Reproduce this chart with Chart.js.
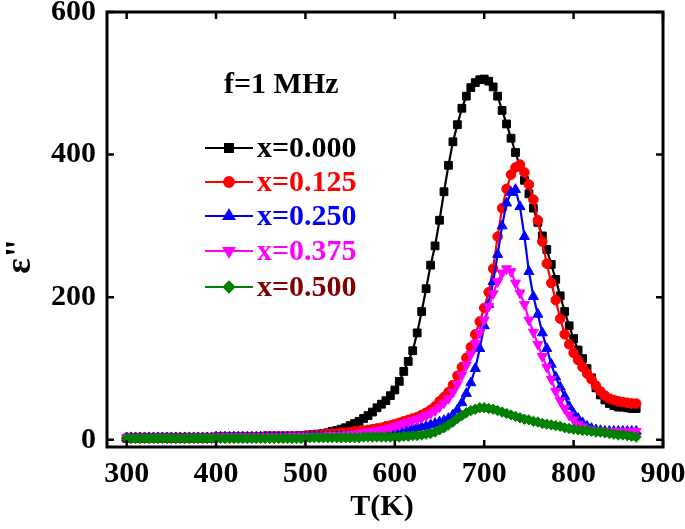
<!DOCTYPE html>
<html>
<head>
<meta charset="utf-8">
<script src="https://cdn.jsdelivr.net/npm/chart.js@4.4.1/dist/chart.umd.min.js"></script>
<style>
  html, body { margin: 0; padding: 0; background: #fff; }
  canvas { display: block; }
</style>
</head>
<body>
<canvas id="chart" width="685" height="529"></canvas>
<script>
// temperature (K)
const temps = [
  300, 305, 310, 315, 320, 325, 330, 335, 340, 345,
  350, 355, 360, 365, 370, 375, 380, 385, 390, 395,
  400, 405, 410, 415, 420, 425, 430, 435, 440, 445,
  450, 455, 460, 465, 470, 475, 480, 485, 490, 495,
  500, 505, 510, 515, 520, 525, 530, 535, 540, 545,
  550, 555, 560, 565, 570, 575, 580, 585, 590, 595,
  600, 605, 610, 615, 620, 625, 630, 635, 640, 645,
  650, 655, 660, 665, 670, 675, 680, 685, 690, 695,
  700, 705, 710, 715, 720, 725, 730, 735, 740, 745,
  750, 755, 760, 765, 770, 775, 780, 785, 790, 795,
  800, 805, 810, 815, 820, 825, 830, 835, 840, 845,
  850, 855, 860, 865, 870
];

// epsilon'' at f = 1 MHz
const eps000 = [
  2, 2, 2, 2, 2, 2, 2, 2, 2, 2,
  2, 2, 2, 2, 2, 2, 2, 2, 2, 2,
  3, 3, 3, 3, 3, 3, 3, 3, 3, 3,
  4, 4, 4, 4, 4, 4, 4, 5, 5, 6,
  6, 7, 7, 8, 9, 10, 12, 13, 15, 17,
  20, 23, 26, 30, 34, 39, 45, 50, 55, 62,
  70, 82, 96, 110, 125, 150, 180, 212, 245, 272,
  308, 348, 385, 418, 442, 465, 482, 494, 501, 505,
  506, 503, 495, 482, 462, 443, 423, 403, 383, 364,
  345, 325, 305, 286, 267, 246, 225, 202, 180, 160,
  142, 126, 114, 100, 87, 73, 63, 56, 51, 48,
  46, 46, 45, 44, 44
];
const eps125 = [
  3, 3, 3, 3, 3, 3, 3, 3, 3, 3,
  3, 3, 3, 3, 3, 3, 3, 3, 3, 3,
  4, 4, 4, 4, 4, 4, 4, 4, 4, 4,
  4, 5, 5, 5, 5, 5, 5, 5, 5, 5,
  6, 6, 7, 7, 8, 8, 9, 9, 10, 10,
  11, 12, 12, 13, 14, 15, 16, 17, 19, 20,
  22, 24, 26, 28, 30, 32, 35, 38, 42, 47,
  54, 60, 67, 77, 90, 102, 115, 130, 148, 166,
  185, 207, 240, 285, 325, 352, 372, 382, 386, 375,
  358, 337, 308, 278, 247, 220, 196, 170, 148, 134,
  122, 112, 102, 93, 85, 76, 68, 62, 58, 56,
  54, 53, 52, 51, 51
];
const eps250 = [
  3, 3, 3, 3, 3, 3, 3, 3, 3, 3,
  3, 3, 3, 3, 3, 3, 3, 3, 3, 3,
  4, 4, 4, 4, 4, 4, 4, 4, 4, 4,
  4, 4, 4, 4, 4, 4, 4, 4, 4, 4,
  4, 5, 5, 5, 5, 5, 5, 5, 5, 5,
  6, 6, 6, 6, 7, 7, 8, 9, 10, 11,
  12, 13, 14, 15, 16, 17, 18, 19, 21, 23,
  25, 27, 30, 35, 42, 52, 65, 80, 100, 128,
  160, 190, 222, 260, 300, 332, 347, 351, 327, 285,
  236, 201, 176, 150, 128, 106, 88, 74, 61, 47,
  37, 30, 24, 19, 16, 14, 13, 12, 12, 12,
  12, 12, 12, 12, 12
];
const eps375 = [
  3, 3, 3, 3, 3, 3, 3, 3, 3, 3,
  3, 3, 3, 3, 3, 3, 3, 3, 3, 3,
  4, 4, 4, 4, 4, 4, 4, 4, 4, 4,
  4, 4, 4, 4, 4, 4, 4, 5, 5, 5,
  5, 5, 5, 5, 5, 6, 6, 6, 6, 7,
  7, 8, 9, 10, 11, 12, 13, 14, 15, 17,
  19, 21, 23, 25, 27, 29, 31, 34, 37, 41,
  46, 52, 58, 67, 78, 91, 105, 120, 135, 150,
  168, 187, 205, 222, 234, 240, 236, 220, 206, 190,
  168, 151, 134, 117, 102, 85, 68, 55, 44, 35,
  28, 22, 18, 15, 14, 13, 12, 12, 12, 12,
  12, 12, 12, 12, 12
];
const eps500 = [
  2, 2, 2, 2, 2, 2, 2, 2, 2, 2,
  2, 2, 2, 2, 2, 2, 2, 2, 2, 2,
  2, 2, 2, 2, 2, 2, 2, 2, 2, 2,
  2, 2, 2, 2, 2, 2, 2, 2, 2, 2,
  2, 3, 3, 3, 3, 3, 3, 3, 3, 3,
  3, 3, 3, 4, 4, 4, 4, 4, 4, 4,
  4, 4, 5, 5, 6, 6, 7, 8, 9, 11,
  14, 17, 21, 25, 30, 34, 38, 41, 43, 45,
  45, 44, 43, 41, 39, 37, 35, 33, 31, 29,
  28, 26, 25, 23, 22, 21, 20, 19, 17, 16,
  15, 14, 13, 13, 12, 11, 11, 10, 9, 8,
  7, 7, 6, 5, 4
];

const seriesNames = ['x=0.000', 'x=0.125', 'x=0.250', 'x=0.375', 'x=0.500'];
const seriesData = [eps000, eps125, eps250, eps375, eps500];
const xTicks = [300, 400, 500, 600, 700, 800, 900];
const yTicks = [0, 200, 400, 600];

const colors = ['#000000', '#ff0000', '#0000ff', '#ff00ff', '#008000'];
const labelColors = ['#000000', '#ff0000', '#0000ff', '#ff00ff', '#800000'];
const styles = [
  { pointStyle: 'rect', radius: 5.5, rotation: 0 },
  { pointStyle: 'circle', radius: 4.8, rotation: 0 },
  { pointStyle: 'triangle', radius: 5.8, rotation: 0 },
  { pointStyle: 'triangle', radius: 5.8, rotation: 180 },
  { pointStyle: 'rectRot', radius: 5.2, rotation: 0 }
];

const FONT = 'Liberation Serif';

const datasets = seriesData.map((vals, i) => ({
  label: seriesNames[i],
  data: temps.map((t, j) => ({ x: t, y: vals[j] })),
  borderColor: colors[i],
  backgroundColor: colors[i],
  borderWidth: 2.2,
  pointStyle: styles[i].pointStyle,
  pointRadius: styles[i].radius,
  pointRotation: styles[i].rotation,
  pointBorderWidth: 1,
  tension: 0,
  order: 4 - i
}));

const dressing = {
  id: 'dressing',
  afterDraw(chart) {
    const ctx = chart.ctx;
    const a = chart.chartArea;
    const xs = chart.scales.x, ys = chart.scales.y;
    ctx.save();

    // box + inner ticks
    ctx.strokeStyle = '#000';
    ctx.lineWidth = 3;
    ctx.strokeRect(a.left, a.top, a.right - a.left, a.bottom - a.top);
    ctx.lineWidth = 2.5;
    ctx.beginPath();
    xTicks.forEach(v => {
      const px = xs.getPixelForValue(v);
      ctx.moveTo(px, a.bottom); ctx.lineTo(px, a.bottom - 7);
      ctx.moveTo(px, a.top); ctx.lineTo(px, a.top + 7);
    });
    yTicks.forEach(v => {
      const py = ys.getPixelForValue(v);
      ctx.moveTo(a.left, py); ctx.lineTo(a.left + 7, py);
      ctx.moveTo(a.right, py); ctx.lineTo(a.right - 7, py);
    });
    ctx.stroke();

    // legend
    const rows = [148, 182, 216, 251, 287];
    ctx.font = 'bold 30px "' + FONT + '"';
    ctx.textBaseline = 'middle';
    ctx.textAlign = 'left';
    ctx.fillStyle = '#000';
    ctx.fillText('f=1 MHz', 224, 85);
    rows.forEach((y, i) => {
      ctx.strokeStyle = colors[i];
      ctx.fillStyle = colors[i];
      ctx.lineWidth = 2.2;
      ctx.beginPath();
      ctx.moveTo(205, y); ctx.lineTo(253, y);
      ctx.stroke();
      Chart.helpers.drawPoint(ctx, {
        pointStyle: styles[i].pointStyle,
        radius: styles[i].radius,
        rotation: styles[i].rotation,
        borderWidth: 1
      }, 229, y);
      ctx.fillStyle = labelColors[i];
      ctx.fillText(seriesNames[i], 257, y + 1);
    });

    // axis titles
    ctx.fillStyle = '#000';
    ctx.textAlign = 'center';
    ctx.fillText('T(K)', 382, 507);
    ctx.translate(21, 256);
    ctx.rotate(-Math.PI / 2);
    ctx.font = 'bold 36px "' + FONT + '"';
    ctx.fillText('ε"', 0, 0);
    ctx.restore();
  }
};

const tickFont = { family: FONT, weight: 'bold', size: 30, lineHeight: 1 };

new Chart(document.getElementById('chart'), {
  type: 'line',
  data: { datasets: datasets },
  options: {
    responsive: false,
    animation: false,
    layout: { padding: { top: 12, right: 22, left: 0, bottom: 0 } },
    plugins: { legend: { display: false }, tooltip: { enabled: false } },
    scales: {
      x: {
        type: 'linear',
        min: 278,
        max: 900,
        grid: { display: false, drawTicks: false },
        border: { display: false },
        afterBuildTicks: s => { s.ticks = xTicks.map(v => ({ value: v })); },
        afterFit: s => {
          s.height = 82;
          s.paddingLeft = 0; s.paddingRight = 0;
        },
        ticks: { color: '#000', font: tickFont, padding: 12, maxRotation: 0, autoSkip: false }
      },
      y: {
        min: -10,
        max: 600,
        grid: { display: false, drawTicks: false },
        border: { display: false },
        afterBuildTicks: s => { s.ticks = yTicks.map(v => ({ value: v })); },
        afterFit: s => {
          s.width = 107;
          s.paddingTop = 0; s.paddingBottom = 0;
        },
        ticks: { color: '#000', font: tickFont, padding: 11, autoSkip: false }
      }
    }
  },
  plugins: [dressing]
});
</script>
</body>
</html>
